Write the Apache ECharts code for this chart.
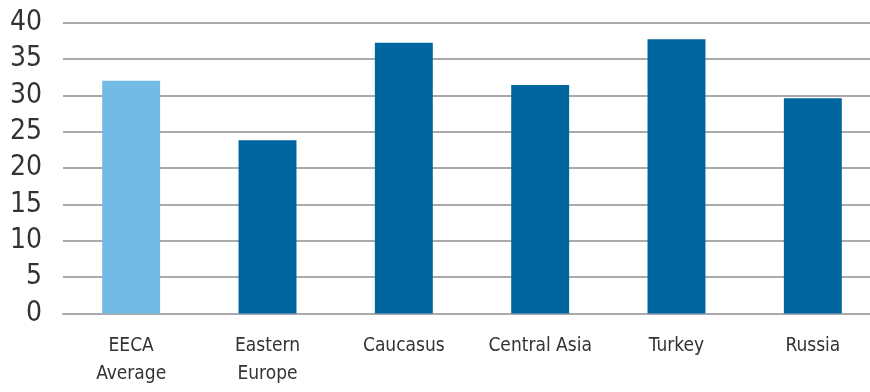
<!DOCTYPE html>
<html>
<head>
<meta charset="utf-8">
<script src="https://cdn.jsdelivr.net/npm/echarts@6/dist/echarts.min.js"></script>
<style>
html,body{margin:0;padding:0;background:#fff;}
#chart{width:870px;height:392px;}
</style>
</head>
<body>
<div id="chart"></div>
<script>
// 数据
var categories = ['EECA\nAverage', 'Eastern\nEurope', 'Caucasus', 'Central Asia', 'Turkey', 'Russia'];
var values = [32.0, 23.8, 37.2, 31.4, 37.7, 29.6];
var colors = ['#72bbe6', '#00669f', '#00669f', '#00669f', '#00669f', '#00669f'];

var font = '"DejaVu Sans Condensed", "Liberation Sans Narrow", sans-serif';

var myChart = echarts.init(document.getElementById('chart'));
var option = {
	animation: false,
	grid: {
		left: 63,
		top: 22.5,
		width: 818,
		bottom: 78.5,
		containLabel: false,
		outerBoundsMode: 'none'
	},
	xAxis: {
		type: 'category',
		data: categories,
		axisLine: { show: true, lineStyle: { color: '#aaaaae', width: 2 } },
		axisTick: { show: false },
		axisLabel: {
			color: '#333',
			fontFamily: font,
			fontSize: 19,
			lineHeight: 28,
			margin: 19,
			interval: 0
		}
	},
	yAxis: {
		type: 'value',
		min: 0,
		max: 40,
		interval: 5,
		axisLine: { show: false },
		axisTick: { show: false },
		splitLine: { show: true, lineStyle: { color: '#aaaaae', width: 2 } },
		axisLabel: {
			color: '#333',
			fontFamily: font,
			fontSize: 28,
			margin: 21
		}
	},
	series: [{
		type: 'bar',
		barWidth: '42.5%',
		data: values.map(function (v, i) {
			return { value: v, itemStyle: { color: colors[i] } };
		})
	}]
};
myChart.setOption(option);
</script>
</body>
</html>
